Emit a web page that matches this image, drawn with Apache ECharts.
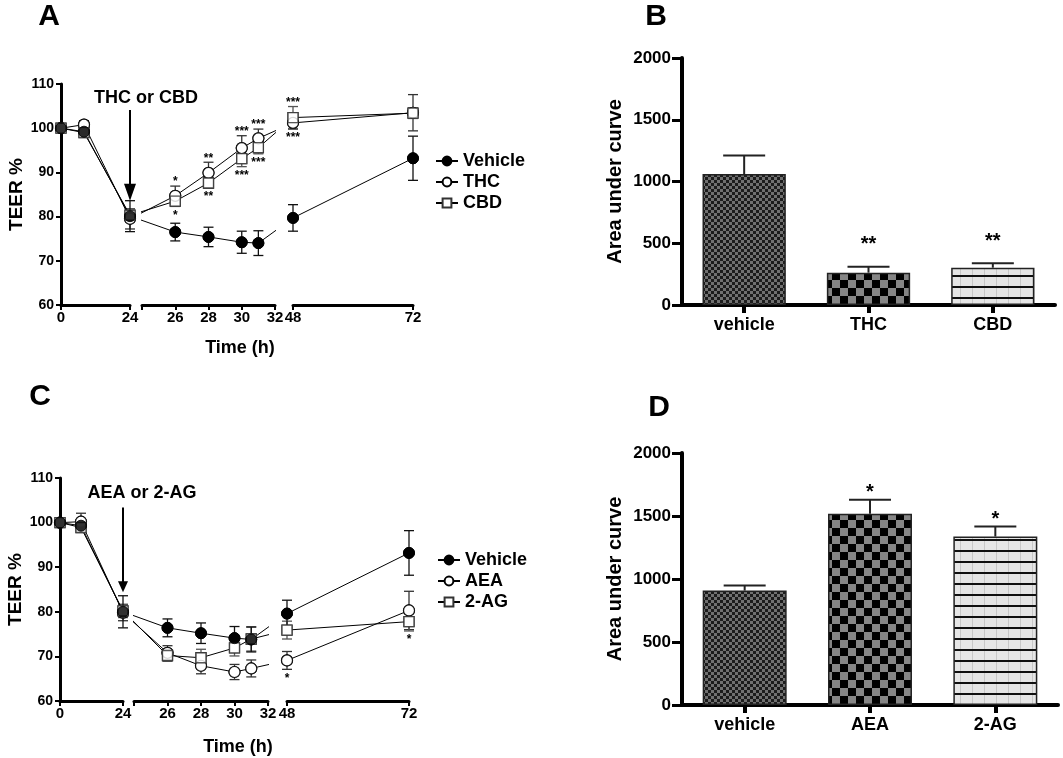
<!DOCTYPE html>
<html><head><meta charset="utf-8">
<script src="https://cdn.jsdelivr.net/npm/echarts@6/dist/echarts.min.js"></script>
<style>html,body{margin:0;padding:0;background:#fff}#c{width:1063px;height:758px}</style>
</head><body><div id="c"></div>
<script>
// ---------------- DATA ----------------
const hours = [0, 8, 24, 26, 28, 30, 31, 48, 72];
// Panel A (TEER %)
const vehicleA = [100, 99.2, 80.1, 76.5, 75.4, 74.2, 74.0, 79.7, 93.2];
const vehicleA_sem = [0, 0.8, 3.5, 2.0, 2.2, 2.5, 2.8, 3.0, 5.0];
const thcA = [100, 100.8, 79.5, 84.7, 89.9, 95.5, 97.7, 101.2, 103.5];
const thcA_sem = [0, 0.9, 2.3, 2.2, 2.4, 2.8, 2.1, 1.4, 4.1];
const cbdA = [100, 99.0, 80.3, 83.5, 87.6, 93.1, 95.6, 102.4, 103.4];
const cbdA_sem = [0, 0.8, 1.5, 1.2, 1.1, 1.8, 1.4, 2.5, 1.2];
const starHoursA = [26, 28, 30, 31, 48];
const starsAboveA = ['*', '**', '***', '***', '***'];
const starsBelowA = ['*', '**', '***', '***', '***'];
// Panel C (TEER %)
const vehicleC = [100, 99.3, 80.0, 76.4, 75.2, 74.1, 73.8, 79.6, 93.2];
const vehicleC_sem = [0, 0.8, 3.6, 2.0, 2.3, 2.6, 2.8, 3.0, 5.0];
const aeaC = [100, 100.2, 79.8, 70.8, 67.9, 66.5, 67.3, 69.1, 80.3];
const aeaC_sem = [0, 1.9, 1.8, 1.6, 1.8, 1.7, 1.9, 2.0, 4.3];
const agC = [100, 98.9, 80.2, 70.2, 69.7, 71.9, 73.9, 75.9, 77.8];
const agC_sem = [0, 1.0, 1.5, 1.3, 1.9, 1.8, 2.7, 2.0, 2.1];
const starHoursC = [48, 72];
const starsBelowC = ['*', '*'];
// Panel B (AUC)
const catsB = ['vehicle', 'THC', 'CBD'];
const aucB = [1060, 262, 302];
const aucB_sem = [150, 48, 36];
const starsB = ['', '**', '**'];
// Panel D (AUC)
const catsD = ['vehicle', 'AEA', '2-AG'];
const aucD = [908, 1518, 1337];
const aucD_sem = [40, 111, 80];
const starsD = ['', '*', '*'];
// Arrows: [hour, from value, to value]
const arrowA = [24, 104.1, 83.6];
const arrowC = [24, 103.4, 84.4];

// ---------------- STYLE / LAYOUT ----------------
const FONT = '"Liberation Sans", Arial, Helvetica, sans-serif';
const BLACK = '#000';
const layoutA = { top: 84, height: 221, segs: [
  { min: 0, max: 24, interval: 24, left: 61, width: 69 },
  { min: 24, max: 32, interval: 2, left: 142, width: 133, hide: [24] },
  { min: 48, max: 72, interval: 24, left: 293, width: 120 } ] };
const layoutC = { top: 478, height: 223, segs: [
  { min: 0, max: 24, interval: 24, left: 60, width: 63 },
  { min: 24, max: 32, interval: 2, left: 134, width: 134, hide: [24] },
  { min: 48, max: 72, interval: 24, left: 287, width: 122 } ] };

const styleVeh = { symbol: 'circle', size: 11, item: { color: '#000', borderColor: '#000', borderWidth: 1 }, err: '#111', z: 6 };
const styleCirc = { symbol: 'circle', size: 11, item: { color: '#fff', borderColor: '#000', borderWidth: 1.2 }, err: '#333', z: 4 };
const styleSq = { symbol: 'rect', size: 10, item: { color: '#fff', borderColor: '#333', borderWidth: 1.3 }, err: '#555', z: 5 };

const grids = [], xAxes = [], yAxes = [], series = [];

function errBarRender(color, half, width, topOnly) {
  return function (params, api) {
    const x = api.value(0), lo = api.value(1), hi = api.value(2);
    const p1 = api.coord([x, lo]), p2 = api.coord([x, hi]);
    const st = { stroke: color, lineWidth: width };
    const ch = [
      { type: 'line', shape: { x1: p1[0], y1: p1[1], x2: p2[0], y2: p2[1] }, style: st },
      { type: 'line', shape: { x1: p2[0] - half, y1: p2[1], x2: p2[0] + half, y2: p2[1] }, style: st }
    ];
    if (!topOnly) ch.push({ type: 'line', shape: { x1: p1[0] - half, y1: p1[1], x2: p1[0] + half, y2: p1[1] }, style: st });
    return { type: 'group', children: ch };
  };
}

function linePanel(cfg, groups, stars, arrow) {
  const segs = cfg.segs;
  const home = t => segs.findIndex(s => t >= s.min && t <= s.max);
  const virt = (t, gi) => {
    const h = segs[home(t)];
    const px = h.left + (t - h.min) / (h.max - h.min) * h.width;
    const g = segs[gi];
    return g.min + (px - g.left) / g.width * (g.max - g.min);
  };
  segs.forEach((s, gi) => {
    const gIdx = grids.length;
    grids.push({ left: s.left, top: cfg.top, width: s.width, height: cfg.height, containLabel: false, outerBoundsMode: 'none' });
    xAxes.push({ type: 'value', gridIndex: gIdx, min: s.min, max: s.max, interval: s.interval,
      axisLine: { onZero: false, lineStyle: { color: BLACK, width: 3 } },
      axisTick: { show: true, length: 5, lineStyle: { color: BLACK, width: 2 } },
      axisLabel: { color: BLACK, fontSize: 15, fontWeight: 'bold', fontFamily: FONT, margin: 5,
        formatter: v => (s.hide && s.hide.indexOf(v) >= 0) ? '' : String(v) },
      splitLine: { show: false } });
    yAxes.push({ type: 'value', gridIndex: gIdx, min: 60, max: 110, interval: 10, show: gi === 0,
      axisLine: { show: true, onZero: false, lineStyle: { color: BLACK, width: 3 } },
      axisTick: { show: true, length: 5, lineStyle: { color: BLACK, width: 2 } },
      axisLabel: { color: BLACK, fontSize: 14, fontWeight: 'bold', fontFamily: FONT, margin: 7, formatter: v => String(v) },
      splitLine: { show: false },
      name: gi === 0 ? 'TEER %' : '', nameLocation: 'middle', nameGap: 33,
      nameTextStyle: { color: BLACK, fontSize: 19, fontWeight: 'bold', fontFamily: FONT } });

    groups.forEach(g => {
      const set = new Set();
      hours.forEach((t, j) => { if (home(t) === gi) { set.add(j - 1); set.add(j); set.add(j + 1); } });
      const ids = [...set].filter(j => j >= 0 && j < hours.length).sort((a, b) => a - b);
      const lineData = ids.map(j => home(hours[j]) === gi
        ? [hours[j], g.values[j]]
        : { value: [virt(hours[j], gi), g.values[j]], symbol: 'none' });
      series.push({ type: 'line', name: g.name, xAxisIndex: gIdx, yAxisIndex: gIdx, data: lineData, clip: true,
        symbol: g.st.symbol, symbolSize: g.st.size, itemStyle: g.st.item, lineStyle: { color: BLACK, width: 1 },
        z: 3, animation: false, silent: true });
      const homeIdx = hours.map((t, j) => j).filter(j => home(hours[j]) === gi);
      series.push({ type: 'custom', xAxisIndex: gIdx, yAxisIndex: gIdx, clip: false, z: 2, silent: true,
        encode: { x: 0, y: [1, 2] },
        data: homeIdx.filter(j => g.sem[j] > 0).map(j => [hours[j], g.values[j] - g.sem[j], g.values[j] + g.sem[j]]),
        renderItem: errBarRender(g.st.err, 5, 1.3, false), animation: false });
      series.push({ type: 'scatter', xAxisIndex: gIdx, yAxisIndex: gIdx, clip: false, z: g.st.z, silent: true,
        symbol: g.st.symbol, symbolSize: g.st.size, itemStyle: g.st.item,
        data: homeIdx.map(j => [hours[j], g.values[j]]), animation: false });
    });

    // significance stars
    const starIdx = stars.hours.map((t, k) => k).filter(k => home(stars.hours[k]) === gi);
    if (starIdx.length) {
      const tg = stars.groups;
      const items = [];
      starIdx.forEach(k => {
        const j = hours.indexOf(stars.hours[k]);
        if (stars.above) items.push({ t: stars.hours[k], ref: Math.max(...tg.map(g => g.values[j] + g.sem[j])), lab: stars.above[k], dir: -1 });
        if (stars.below) items.push({ t: stars.hours[k], ref: Math.min(...tg.map(g => g.values[j] - g.sem[j])), lab: stars.below[k], dir: 1 });
      });
      series.push({ type: 'custom', xAxisIndex: gIdx, yAxisIndex: gIdx, clip: false, z: 7, silent: true,
        data: items.map(it => [it.t, it.ref]), animation: false,
        renderItem: (params, api) => {
          const it = items[params.dataIndex];
          const p = api.coord([api.value(0), api.value(1)]);
          return { type: 'text', x: p[0], y: p[1] + (it.dir < 0 ? -4 : 9),
            style: { text: it.lab, fill: BLACK, fontSize: 12, fontWeight: 'bold', fontFamily: FONT, align: 'center', verticalAlign: 'middle' } };
        } });
    }
    if (gi === 0 && arrow) {
      series.push({ type: 'custom', xAxisIndex: gIdx, yAxisIndex: gIdx, clip: false, z: 8, silent: true,
        data: [arrow.values], animation: false,
        renderItem: (params, api) => {
          const a = api.coord([api.value(0), api.value(1)]);
          const b = api.coord([api.value(0), api.value(2)]);
          const hl = arrow.headLen, hw = arrow.headW;
          return { type: 'group', children: [
            { type: 'line', shape: { x1: a[0], y1: a[1], x2: b[0], y2: b[1] - hl + 1 }, style: { stroke: BLACK, lineWidth: 2 } },
            { type: 'polygon', shape: { points: [[b[0] - hw / 2, b[1] - hl], [b[0] + hw / 2, b[1] - hl], [b[0], b[1]]] }, style: { fill: BLACK } }
          ] };
        } });
    }
  });
}

function makePattern(w, h, draw) {
  const c = document.createElement('canvas'); c.width = w; c.height = h;
  draw(c.getContext('2d')); return c;
}
const fineCheck = makePattern(6, 6, ctx => { ctx.fillStyle = '#707070'; ctx.fillRect(0, 0, 6, 6); ctx.fillStyle = '#1c1c1c'; ctx.fillRect(0, 0, 3, 3); ctx.fillRect(3, 3, 3, 3); });
const coarseCheck = makePattern(16, 16, ctx => { ctx.fillStyle = '#858585'; ctx.fillRect(0, 0, 16, 16); ctx.fillStyle = '#000'; ctx.fillRect(0, 0, 8, 8); ctx.fillRect(8, 8, 8, 8); });
const hLines = makePattern(12, 11, ctx => { ctx.fillStyle = '#e6e6e6'; ctx.fillRect(0, 0, 12, 11); ctx.fillStyle = '#c8c8c8'; ctx.fillRect(0, 0, 1, 11); ctx.fillStyle = '#111'; ctx.fillRect(0, 0, 12, 2); });
const barPatterns = [fineCheck, coarseCheck, hLines];

function barPanel(box, cats, vals, sems, stars, starFont, starOff) {
  const gIdx = grids.length;
  grids.push({ left: box.left, top: box.top, width: box.width, height: box.height, containLabel: false, outerBoundsMode: 'none' });
  xAxes.push({ type: 'category', gridIndex: gIdx, data: cats,
    axisLine: { lineStyle: { color: BLACK, width: 4 } },
    axisTick: { show: true, alignWithLabel: true, length: 8, lineStyle: { color: BLACK, width: 4 } },
    axisLabel: { color: BLACK, fontSize: 18, fontWeight: 'bold', fontFamily: FONT, margin: 11 } });
  yAxes.push({ type: 'value', gridIndex: gIdx, min: 0, max: 2000, interval: 500,
    axisLine: { show: true, lineStyle: { color: BLACK, width: 4 } },
    axisTick: { show: true, length: 10, lineStyle: { color: BLACK, width: 3 } },
    axisLabel: { color: BLACK, fontSize: 17, fontWeight: 'bold', fontFamily: FONT, margin: 11, formatter: v => String(v) },
    splitLine: { show: false },
    name: 'Area under curve', nameLocation: 'middle', nameGap: 57,
    nameTextStyle: { color: BLACK, fontSize: 20, fontWeight: 'bold', fontFamily: FONT } });
  series.push({ type: 'bar', xAxisIndex: gIdx, yAxisIndex: gIdx, barWidth: '67%', silent: true, animation: false, z: 2,
    data: vals.map((v, i) => ({ value: v, itemStyle: { color: { image: barPatterns[i], repeat: 'repeat' }, borderColor: '#222', borderWidth: 1.5 } })) });
  series.push({ type: 'custom', xAxisIndex: gIdx, yAxisIndex: gIdx, clip: false, z: 3, silent: true, animation: false,
    encode: { x: 0, y: [1, 2] },
    data: vals.map((v, i) => [i, v, v + sems[i]]),
    renderItem: errBarRender('#222', 21, 2, true) });
  series.push({ type: 'custom', xAxisIndex: gIdx, yAxisIndex: gIdx, clip: false, z: 4, silent: true, animation: false,
    data: vals.map((v, i) => [i, v + sems[i]]),
    renderItem: (params, api) => {
      const p = api.coord([api.value(0), api.value(1)]);
      return { type: 'text', x: p[0], y: p[1] - starOff,
        style: { text: stars[params.dataIndex], fill: BLACK, fontSize: starFont, fontWeight: 'bold', fontFamily: FONT, align: 'center', verticalAlign: 'middle' } };
    } });
}

const gThc = { name: 'THC', values: thcA, sem: thcA_sem, st: styleCirc };
const gCbd = { name: 'CBD', values: cbdA, sem: cbdA_sem, st: styleSq };
const gVehA = { name: 'Vehicle', values: vehicleA, sem: vehicleA_sem, st: styleVeh };
linePanel(layoutA, [gThc, gCbd, gVehA],
  { hours: starHoursA, above: starsAboveA, below: starsBelowA, groups: [gThc, gCbd] },
  { values: arrowA, headLen: 17, headW: 12 });

const gAea = { name: 'AEA', values: aeaC, sem: aeaC_sem, st: styleCirc };
const gAg = { name: '2-AG', values: agC, sem: agC_sem, st: styleSq };
const gVehC = { name: 'Vehicle', values: vehicleC, sem: vehicleC_sem, st: styleVeh };
linePanel(layoutC, [gAea, gAg, gVehC],
  { hours: starHoursC, below: starsBelowC, groups: [gAea, gAg] },
  { values: arrowC, headLen: 11, headW: 10 });

barPanel({ left: 682, top: 58, width: 373, height: 247 }, catsB, aucB, aucB_sem, starsB, 20, 22);
barPanel({ left: 682, top: 453, width: 376, height: 252 }, catsD, aucD, aucD_sem, starsD, 20, 7);

const legendCommon = { orient: 'vertical', itemGap: 3, itemWidth: 22, itemHeight: 11,
  textStyle: { color: BLACK, fontSize: 18, fontWeight: 'bold', fontFamily: FONT }, selectedMode: false };

function txt(x, y, s, size) {
  return { type: 'text', x: x, y: y, silent: true,
    style: { text: s, fill: BLACK, fontSize: size, fontWeight: 'bold', fontFamily: FONT, align: 'center', verticalAlign: 'middle' } };
}

const option = {
  backgroundColor: '#fff',
  animation: false,
  textStyle: { fontFamily: FONT },
  grid: grids, xAxis: xAxes, yAxis: yAxes, series: series,
  legend: [
    Object.assign({ left: 430, top: 147, data: ['Vehicle', 'THC', 'CBD'] }, legendCommon),
    Object.assign({ left: 432, top: 546, data: ['Vehicle', 'AEA', '2-AG'] }, legendCommon)
  ],
  graphic: [
    txt(49, 17, 'A', 30), txt(656, 17, 'B', 30), txt(40, 397, 'C', 30), txt(659, 408, 'D', 30),
    txt(146, 98, 'THC or CBD', 18), txt(142, 493, 'AEA or 2-AG', 18),
    txt(240, 348, 'Time (h)', 18), txt(238, 747, 'Time (h)', 18)
  ]
};
const chart = echarts.init(document.getElementById('c'), null, { renderer: 'canvas', width: 1063, height: 758 });
chart.setOption(option);
</script>
</body></html>
